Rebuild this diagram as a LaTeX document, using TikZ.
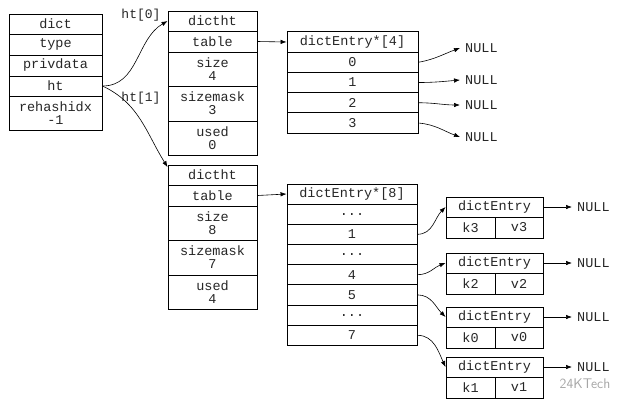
\documentclass[tikz,border=0pt]{standalone}
\usepackage{fontspec}
\setmonofont{Liberation Mono}
\usepackage{tikz}
\usetikzlibrary{arrows.meta, positioning}
\newcommand{\skiprow}{...}

\begin{document}
\begin{tikzpicture}[x=1pt, y=-1pt,
    cell/.style={draw, line width=0.9pt, inner sep=0pt, align=center,
      font=\fontsize{13.5}{13}\ttfamily, text=black!85},
    ptr/.style={-{Latex[length=6pt,width=4.5pt]}, line width=0.6pt},
    nul/.style={anchor=west, inner sep=1pt, inner xsep=5pt,
      font=\fontsize{13.5}{13}\ttfamily, text=black!85},
    lbl/.style={font=\fontsize{13}{13}\ttfamily, text=black!85}]
  \useasboundingbox (0,0) rectangle (640,410);
  % dict
  \foreach \name/\txt/\y/\h in {dname/dict/24/20, dtype/type/44.5/21,
      dpriv/privdata/65.5/21, dht/ht/86/20, drehash/{rehashidx\\-1}/113/34}
    \node[cell, minimum width=93pt, minimum height=\h pt] (\name) at (55.5,\y) {\txt};
  % the two dictht
  \foreach \i/\dy/\sz/\mk/\us in {0/0/4/3/0, 1/154/8/7/4} {
    \node[cell, minimum width=89pt, minimum height=20pt] (hd\i) at (212.5,21+\dy) {dictht};
    \node[cell, minimum width=89pt, minimum height=21pt] (htab\i) at (212.5,41.5+\dy) {table};
    \node[cell, minimum width=89pt, minimum height=34pt] (hsize\i) at (212.5,69+\dy) {size\\\sz};
    \node[cell, minimum width=89pt, minimum height=35pt] (hmask\i) at (212.5,103.5+\dy) {sizemask\\\mk};
    \node[cell, minimum width=89pt, minimum height=34pt] (hused\i) at (212.5,138+\dy) {used\\\us};
  }
  \node[lbl] (l0) at (141,15) {ht[0]};
  \node[lbl] (l1) at (141,98) {ht[1]};
  \draw[ptr] (dht.east) to[out=0, in=210] (hd0.west);
  \draw[ptr] (dht.east) to[out=-25, in=122] (hd1.170);
  % dictEntry*[4]
  \node[cell, minimum width=131pt, minimum height=20.25pt] (ta) at (352.5,42) {dictEntry*[4]};
  \foreach \k in {0,...,3}
    \node[cell, minimum width=131pt, minimum height=20.25pt] (ta\k) at (352.5,{62.25+20.25*\k}) {\k};
  \foreach \k/\y in {0/48, 1/80, 2/105, 3/137}
    \node[nul] (n\k) at (460,\y) {NULL};
  \draw[ptr] (ta0.east) to[out=10, in=200] (n0.west);
  \draw[ptr] (ta1.east) to[out=0, in=185] (n1.west);
  \draw[ptr] (ta2.east) to[out=0, in=180] (n2.west);
  \draw[ptr] (ta3.east) to[out=-5, in=160] (n3.west);
  \draw[ptr] (htab0.east) -- (ta.west);
  % dictEntry*[8]
  \node[cell, minimum width=130pt, minimum height=20pt] (tb) at (352,194) {dictEntry*[8]};
  \foreach \txt [count=\k] in {\skiprow,1,\skiprow,4,5,\skiprow,7}
    \node[cell, minimum width=130pt, minimum height=20.2pt] (tb\k) at (352,{193.9+20.2*\k}) {\txt};
  \draw[ptr] (htab1.east) -- (tb.west);
  % dictEntry nodes
  \foreach \i/\y/\kk/\vv in {1/197/k3/v3, 2/253/k2/v2, 3/307/k0/v0, 4/357/k1/v1} {
    \node[cell, minimum width=97pt, minimum height=20pt] (e\i) at (494.5,\y+10) {dictEntry};
    \node[cell, minimum width=49pt, minimum height=21pt] (k\i) at (470.5,\y+30.5) {\kk};
    \node[cell, minimum width=48pt, minimum height=21pt] (v\i) at (519,\y+30.5) {\vv};
    \node[nul] (en\i) at (572,\y+10) {NULL};
    \draw[ptr] (e\i) -- (en\i);
  }
  \draw[ptr] (tb2.east) to[out=0, in=225] (e1.west);
  \draw[ptr] (tb4.east) to[out=0, in=200] (e2.west);
  \draw[ptr] (tb5.east) to[out=0, in=135] (e3.west);
  \draw[ptr] (tb7.east) to[out=0, in=115] (e4.west);
  \node[text=black!35, font=\fontsize{14}{14}\sffamily] (wm) at (585,384) {24KTech};
\end{tikzpicture}
\end{document}
